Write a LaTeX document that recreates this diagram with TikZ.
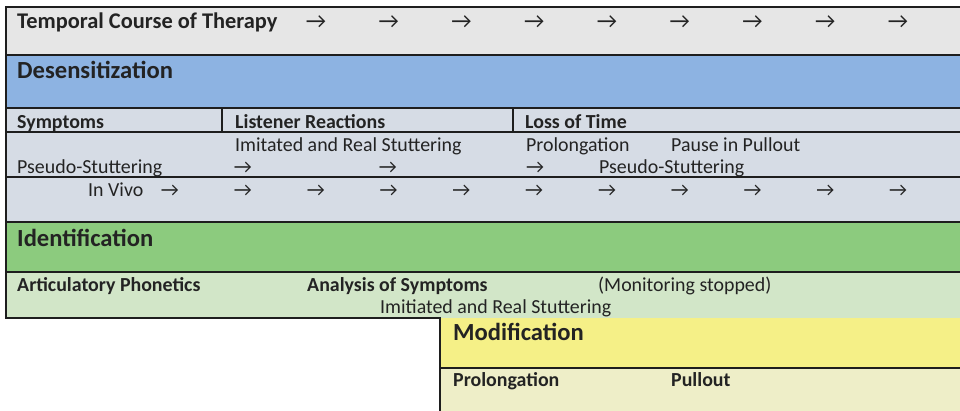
\documentclass[tikz,border=0pt]{standalone}
\usepackage{fontspec}
\setmainfont{Carlito}
\definecolor{cgray}{RGB}{230,230,230}
\definecolor{cblue}{RGB}{141,179,226}
\definecolor{cbluegray}{RGB}{214,220,229}
\definecolor{cgreen}{RGB}{140,203,126}
\definecolor{clightgreen}{RGB}{210,230,200}
\definecolor{cyellow}{RGB}{245,240,135}
\definecolor{clightyellow}{RGB}{238,238,200}
\definecolor{cline}{RGB}{30,30,30}
\definecolor{ctext}{RGB}{35,35,35}
\tikzset{
  rule/.style={draw=cline, line width=1.1pt},
  txt/.style={anchor=base west, inner sep=0pt, text=ctext, font=\fontsize{19.9}{24}\selectfont},
  btxt/.style={txt, font=\fontsize{19.9}{24}\selectfont\bfseries},
  ttl/.style={txt, font=\fontsize{22.4}{27}\selectfont\bfseries},
  head/.style={txt, font=\fontsize{24.6}{29}\selectfont\bfseries},
  arr/.style={anchor=base, inner sep=0pt, text=ctext, font=\fontsize{19.9}{24}\selectfont},
  bigarr/.style={arr, font=\fontsize{22.4}{27}\selectfont},
}
\begin{document}
\begin{tikzpicture}[x=1pt,y=-1pt]
\useasboundingbox (0,0) rectangle (960,411);
% band fills
\fill[cgray] (6,7) rectangle (960,55);
\fill[cblue] (6,55) rectangle (960,108);
\fill[cbluegray] (6,108) rectangle (960,222);
\fill[cgreen] (6,222) rectangle (960,272);
\fill[clightgreen] (6,272) rectangle (960,318);
\fill[cyellow] (440,318) rectangle (960,368);
\fill[clightyellow] (440,368) rectangle (960,411);
% rules
\draw[rule] (960,7) -- (6,7) -- (6,318) -- (440,318) -- (440,411);
\draw[rule] (6,55) -- (960,55);
\draw[rule] (6,108) -- (960,108);
\draw[rule] (6,132) -- (960,132);
\draw[rule] (6,177) -- (960,177);
\draw[rule] (6,222) -- (960,222);
\draw[rule] (6,272) -- (960,272);
\draw[rule] (440,368) -- (960,368);
\draw[rule] (222,108) -- (222,132);
\draw[rule] (513,108) -- (513,132);
% time course
\node[ttl] (course) at (17,28.3) {Temporal Course of Therapy};
\foreach \i in {0,...,8} {
  \node[bigarr] (t\i) at ({316+72.75*\i},28.3) {→};
}
% desensitization
\node[head] (des) at (17,79) {Desensitization};
\node[btxt] (symp) at (17,128.5) {Symptoms};
\node[btxt] (lis) at (235,128.5) {Listener Reactions};
\node[btxt] (loss) at (525,128.5) {Loss of Time};
\node[txt] (imit) at (235,151.5) {Imitated and Real Stuttering};
\node[txt] (prol) at (526,151.5) {Prolongation};
\node[txt] (pause) at (671,151.5) {Pause in Pullout};
\node[txt] (pseudo1) at (17,173.5) {Pseudo-Stuttering};
\node[arr] (a1) at (243,173.5) {→};
\node[arr] (a2) at (388,173.5) {→};
\node[arr] (a3) at (535,173.5) {→};
\node[txt] (pseudo2) at (599,173.5) {Pseudo-Stuttering};
\node[txt] (vivo) at (88,197) {In Vivo};
\node[arr] (v0) at (170,197) {→};
\foreach \i in {0,...,9} {
  \node[arr] (v\i) at ({243+72.8*\i},197) {→};
}
% identification
\node[head] (ident) at (17,247) {Identification};
\node[btxt] (artic) at (17,291.5) {Articulatory Phonetics};
\node[btxt] (anal) at (307,291.5) {Analysis of Symptoms};
\node[txt] (monit) at (598,291.5) {(Monitoring stopped)};
\node[txt] (imit2) at (380,313.5) {Imitiated and Real Stuttering};
% modification
\node[head] (mod) at (453,340.7) {Modification};
\node[btxt] (prol2) at (453,386) {Prolongation};
\node[btxt] (pull) at (671,386) {Pullout};
\end{tikzpicture}
\end{document}
